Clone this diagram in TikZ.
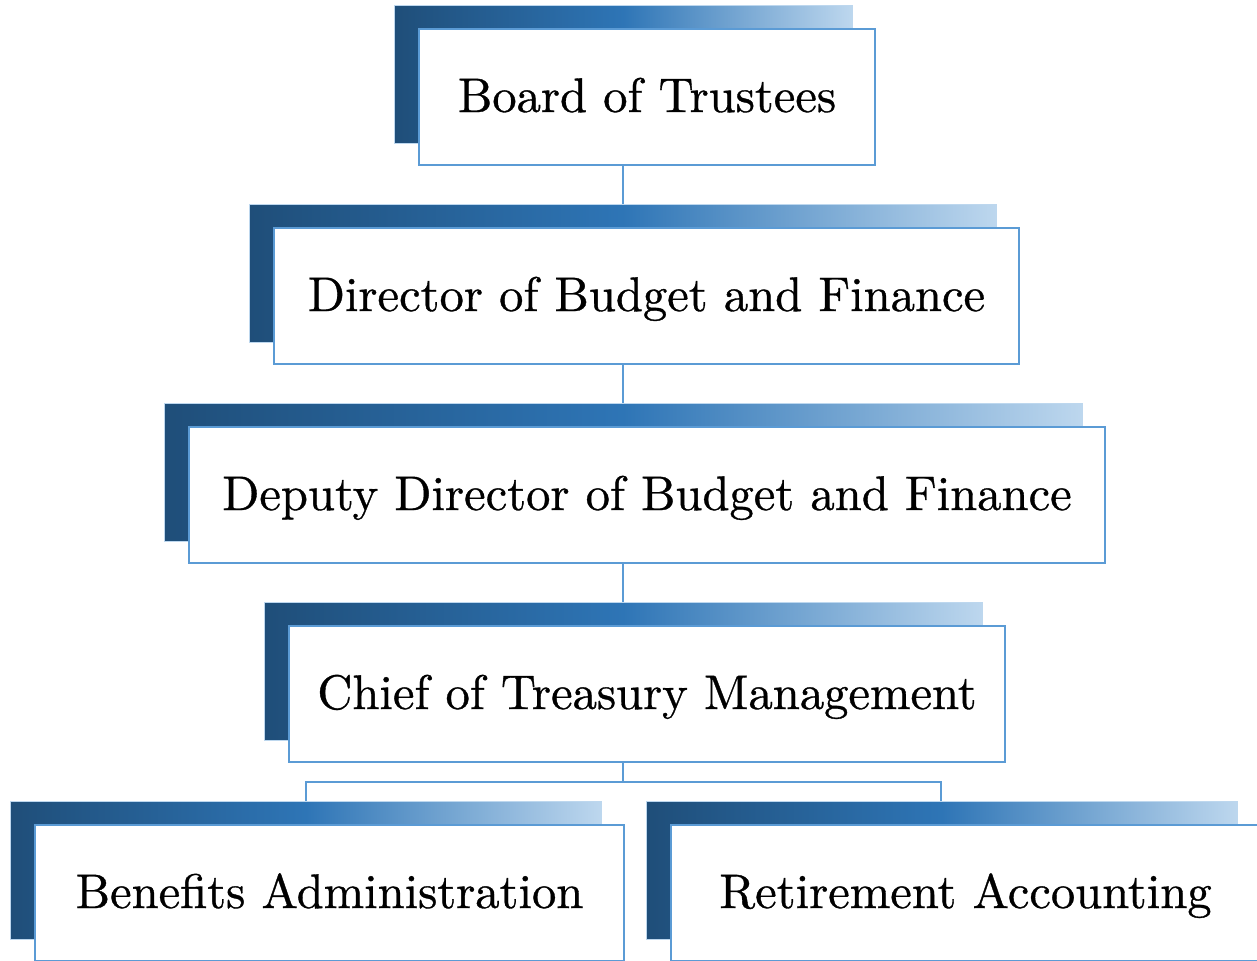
\documentclass[tikz,border=0pt]{standalone}
\usepackage{fontspec}
\usepackage{tikz}
\usetikzlibrary{backgrounds}

\newfontfamily\postfont{lmroman10-regular}[Extension=.otf, FakeBold=0.7]

\definecolor{navy}{HTML}{1F4E79}
\definecolor{midblue}{HTML}{2E75B6}
\definecolor{paleblue}{HTML}{BDD7EE}
\definecolor{edgeblue}{HTML}{5B9BD5}

\begin{document}
\begin{tikzpicture}[x=0.5pt, y=-0.5pt,
        post/.style = {draw=edgeblue, line width=1pt, fill=white,
            minimum height=68pt, inner sep=0pt, text height=18pt, text depth=3pt,
            font=\postfont\fontsize{24.3}{30}\selectfont},
        backing/.style = {left color=navy, right color=paleblue, middle color=midblue,
            draw=paleblue, line width=0.5pt},
        link/.style = {draw=edgeblue, line width=1pt}]
    \useasboundingbox (0,0) rectangle (1257,960);
        \node[post, minimum width=228pt] (board) at (647,97){Board of Trustees};
        \node[post, minimum width=372.5pt] (director) at (646.5,296){Director of Budget and Finance};
        \node[post, minimum width=458pt] (deputy) at (647,495){Deputy Director of Budget and Finance};
        \node[post, minimum width=358pt] (chief) at (647,694){Chief of Treasury Management};
        \node[post, minimum width=294.5pt] (benefits) at (329.5,893){Benefits Administration};
        \node[post, minimum width=294.5pt] (retire) at (965.5,893){Retirement Accounting};
        \coordinate (trunk) at (623,0);
        \coordinate (split) at (623,782);
        \begin{scope}[on background layer]
        \draw[link] (board.south -| trunk) -- (director.north -| trunk);
        \draw[link] (director.south -| trunk) -- (deputy.north -| trunk);
        \draw[link] (deputy.south -| trunk) -- (chief.north -| trunk);
        \draw[link] (chief.south -| trunk) -- (split);
        \draw[link] (split) -| (benefits.north -| 306,0);
        \draw[link] (split) -| (retire.north -| 941,0);
        \foreach \b in {board, director, deputy, chief, benefits, retire}
            \path[backing] ([shift={(-24,-23)}]\b.south west) rectangle ([shift={(-24,-23)}]\b.north east);
        \end{scope}
    \end{tikzpicture}
\end{document}
